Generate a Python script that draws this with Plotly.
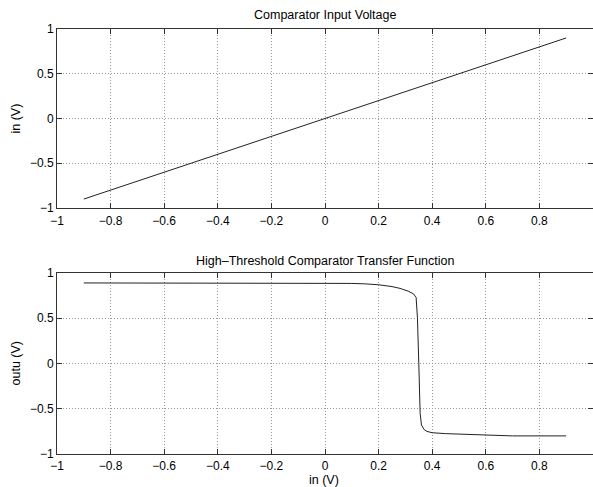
import plotly.graph_objects as go

# Top plot: comparator input voltage
in_x = [-0.9, 0.9]
in_y = [-0.9, 0.9]

# Bottom plot: transfer function
tf_x = [-0.9, -0.5, 0.0, 0.1, 0.15, 0.2, 0.25, 0.28, 0.31, 0.33, 0.34, 0.345,
        0.35, 0.355, 0.36, 0.37, 0.38, 0.4, 0.45, 0.5, 0.6, 0.7, 0.8, 0.9]
tf_y = [0.89, 0.89, 0.888, 0.885, 0.88, 0.87, 0.85, 0.83, 0.80, 0.77, 0.73, 0.5,
        0.0, -0.55, -0.68, -0.73, -0.75, -0.765, -0.775, -0.78, -0.795, -0.8, -0.8, -0.8]

title_top = "Comparator Input Voltage"
title_bot = "High–Threshold Comparator Transfer Function"
ylabel_top = "in (V)"
ylabel_bot = "outu (V)"
xlabel_bot = "in (V)"

W, H = 593, 487
L = 57

fig = go.Figure()
fig.add_trace(go.Scatter(x=in_x, y=in_y, mode="lines", line=dict(color="#222", width=1),
                         xaxis="x", yaxis="y", showlegend=False))
fig.add_trace(go.Scatter(x=tf_x, y=tf_y, mode="lines", line=dict(color="#222", width=1),
                         xaxis="x2", yaxis="y2", showlegend=False))

def py(px):
    return 1 - px / H

axis_common = dict(showline=True, linecolor="#333", linewidth=1, mirror="ticks",
                   ticks="inside", ticklen=5, tickcolor="#333", automargin=False,
                   showgrid=True, gridcolor="#999", griddash="1px,2px", gridwidth=1,
                   zeroline=False, tickfont=dict(family="Liberation Sans, Arial", size=12, color="black"))

fig.update_layout(
    width=W, height=H,
    margin=dict(l=L, r=0, t=0, b=0, autoexpand=False),
    paper_bgcolor="white", plot_bgcolor="white",
    font=dict(family="Liberation Sans, Arial", size=12, color="black"),
    xaxis=dict(domain=[0, 1], anchor="y", range=[-1, 1], dtick=0.2, tick0=-1,
               ticklabelstandoff=2, **axis_common),
    yaxis=dict(domain=[py(208), py(29)], anchor="x", range=[-1, 1], dtick=0.5, tick0=-1, **axis_common),
    xaxis2=dict(domain=[0, 1], anchor="y2", range=[-1, 1], dtick=0.2, tick0=-1,
                ticklabelstandoff=1, **axis_common),
    yaxis2=dict(domain=[py(454), py(273)], anchor="x2", range=[-1, 1], dtick=0.5, tick0=-1, **axis_common),
)

def px2x(px):
    return (px - L) / (W - L)

ann = [
    dict(text=title_top, x=0.5, y=py(15), xref="paper", yref="paper", showarrow=False,
         xanchor="center", yanchor="middle", font=dict(size=12.5)),
    dict(text=title_bot, x=0.5, y=py(260.5), xref="paper", yref="paper", showarrow=False,
         xanchor="center", yanchor="middle", font=dict(size=12.5)),
    dict(text=ylabel_top, x=px2x(15), y=py(118.5), xref="paper", yref="paper", showarrow=False,
         xanchor="center", yanchor="middle", textangle=-90, font=dict(size=12.5)),
    dict(text=ylabel_bot, x=px2x(15), y=py(363.5), xref="paper", yref="paper", showarrow=False,
         xanchor="center", yanchor="middle", textangle=-90, font=dict(size=12.5)),
    dict(text=xlabel_bot, x=px2x(324), y=py(480), xref="paper", yref="paper", showarrow=False,
         xanchor="center", yanchor="middle", font=dict(size=12.5)),
]
fig.update_layout(annotations=ann)

fig.write_html("out.html", config={"displayModeBar": False},
               post_script="document.body.style.margin='0';document.body.style.overflow='hidden';")
